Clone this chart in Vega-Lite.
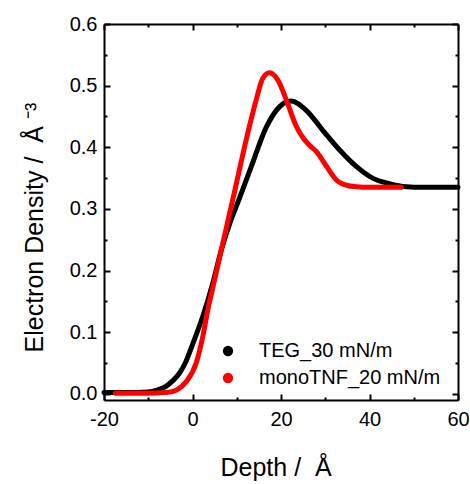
{
  "$schema": "https://vega.github.io/schema/vega-lite/v6.json",
  "width": 354,
  "height": 376,
  "autosize": {"type": "none"},
  "padding": {"left": 104, "top": 24, "right": 12, "bottom": 84},
  "background": "white",
  "config": {
    "font": "Liberation Sans",
    "view": {"stroke": null},
    "axis": {
      "grid": false,
      "domainColor": "black",
      "domainWidth": 2,
      "tickColor": "black",
      "tickWidth": 2,
      "labelFont": "Liberation Sans",
      "labelFontSize": 20,
      "labelColor": "black",
      "titleFont": "Liberation Sans",
      "titleFontSize": 25,
      "titleFontWeight": "normal",
      "titleColor": "black",
      "labelFlush": false,
      "labelOverlap": false
    },
    "legend": {
      "labelFont": "Liberation Sans",
      "labelFontSize": 20,
      "labelColor": "black",
      "labelLimit": 0
    }
  },
  "data": {
    "values": [
      {"s": "TEG_30 mN/m", "x": -20, "y": 0.002},
      {"s": "TEG_30 mN/m", "x": -15, "y": 0.002},
      {"s": "TEG_30 mN/m", "x": -10, "y": 0.003},
      {"s": "TEG_30 mN/m", "x": -8, "y": 0.006},
      {"s": "TEG_30 mN/m", "x": -6, "y": 0.012},
      {"s": "TEG_30 mN/m", "x": -4.5, "y": 0.021},
      {"s": "TEG_30 mN/m", "x": -3, "y": 0.033},
      {"s": "TEG_30 mN/m", "x": -1.5, "y": 0.052},
      {"s": "TEG_30 mN/m", "x": 0, "y": 0.08},
      {"s": "TEG_30 mN/m", "x": 2.3, "y": 0.125},
      {"s": "TEG_30 mN/m", "x": 4.6, "y": 0.18},
      {"s": "TEG_30 mN/m", "x": 6.5, "y": 0.233},
      {"s": "TEG_30 mN/m", "x": 8.5, "y": 0.278},
      {"s": "TEG_30 mN/m", "x": 10.6, "y": 0.317},
      {"s": "TEG_30 mN/m", "x": 13.3, "y": 0.369},
      {"s": "TEG_30 mN/m", "x": 16.7, "y": 0.433},
      {"s": "TEG_30 mN/m", "x": 19.7, "y": 0.466},
      {"s": "TEG_30 mN/m", "x": 22.3, "y": 0.475},
      {"s": "TEG_30 mN/m", "x": 25.7, "y": 0.46},
      {"s": "TEG_30 mN/m", "x": 29.4, "y": 0.428},
      {"s": "TEG_30 mN/m", "x": 33.2, "y": 0.396},
      {"s": "TEG_30 mN/m", "x": 37, "y": 0.369},
      {"s": "TEG_30 mN/m", "x": 40.7, "y": 0.35},
      {"s": "TEG_30 mN/m", "x": 44.5, "y": 0.341},
      {"s": "TEG_30 mN/m", "x": 48.3, "y": 0.336},
      {"s": "TEG_30 mN/m", "x": 52, "y": 0.335},
      {"s": "TEG_30 mN/m", "x": 60, "y": 0.335},
      {"s": "monoTNF_20 mN/m", "x": -17.4, "y": 0.001},
      {"s": "monoTNF_20 mN/m", "x": -10, "y": 0.001},
      {"s": "monoTNF_20 mN/m", "x": -6, "y": 0.002},
      {"s": "monoTNF_20 mN/m", "x": -3.7, "y": 0.006},
      {"s": "monoTNF_20 mN/m", "x": -1.4, "y": 0.02},
      {"s": "monoTNF_20 mN/m", "x": 0.84, "y": 0.05},
      {"s": "monoTNF_20 mN/m", "x": 2.33, "y": 0.093},
      {"s": "monoTNF_20 mN/m", "x": 3.46, "y": 0.136},
      {"s": "monoTNF_20 mN/m", "x": 5, "y": 0.185},
      {"s": "monoTNF_20 mN/m", "x": 6.5, "y": 0.233},
      {"s": "monoTNF_20 mN/m", "x": 9.1, "y": 0.315},
      {"s": "monoTNF_20 mN/m", "x": 12.9, "y": 0.435},
      {"s": "monoTNF_20 mN/m", "x": 14.4, "y": 0.477},
      {"s": "monoTNF_20 mN/m", "x": 15.9, "y": 0.512},
      {"s": "monoTNF_20 mN/m", "x": 17.4, "y": 0.521},
      {"s": "monoTNF_20 mN/m", "x": 19.3, "y": 0.509},
      {"s": "monoTNF_20 mN/m", "x": 21.2, "y": 0.477},
      {"s": "monoTNF_20 mN/m", "x": 23.4, "y": 0.435},
      {"s": "monoTNF_20 mN/m", "x": 25, "y": 0.415},
      {"s": "monoTNF_20 mN/m", "x": 26.5, "y": 0.403},
      {"s": "monoTNF_20 mN/m", "x": 28, "y": 0.393},
      {"s": "monoTNF_20 mN/m", "x": 30.2, "y": 0.37},
      {"s": "monoTNF_20 mN/m", "x": 32.5, "y": 0.347},
      {"s": "monoTNF_20 mN/m", "x": 35, "y": 0.338},
      {"s": "monoTNF_20 mN/m", "x": 37, "y": 0.336},
      {"s": "monoTNF_20 mN/m", "x": 40, "y": 0.335},
      {"s": "monoTNF_20 mN/m", "x": 47.2, "y": 0.335}
    ]
  },
  "layer": [
    {
      "mark": {"type": "line", "strokeWidth": 5, "strokeCap": "round", "strokeJoin": "round", "interpolate": "monotone"},
      "encoding": {
        "x": {"field": "x", "type": "quantitative", "scale": {"domain": [-20, 60], "nice": false, "zero": false},
          "axis": {"orient": "bottom", "values": [-20, 0, 20, 40, 60], "tickSize": -6, "labelPadding": 15,
            "labelExpr": "replace(datum.label, '\u2212', '-')",
            "title": "Depth /\u00a0\u00a0Å", "titleX": 116, "titleY": 75, "titleAlign": "left", "titleBaseline": "alphabetic"}},
        "y": {"field": "y", "type": "quantitative", "scale": {"domain": [-0.01, 0.6], "nice": false, "zero": false},
          "axis": {"orient": "left", "values": [0, 0.1, 0.2, 0.3, 0.4, 0.5, 0.6], "format": ".1f", "tickSize": -6, "labelPadding": 13,
            "title": "Electron Density /\u00a0\u00a0Å\u00a0⁻³", "titleX": -62, "titleY": 328, "titleAngle": 270, "titleAlign": "left", "titleBaseline": "alphabetic"}},
        "color": {"field": "s", "type": "nominal", "sort": ["TEG_30 mN/m", "monoTNF_20 mN/m"],
          "scale": {"domain": ["TEG_30 mN/m", "monoTNF_20 mN/m"], "range": ["#000000", "#ff0000"]},
          "legend": {"title": null, "orient": "none", "legendX": 114, "legendY": 317, "symbolType": "circle", "symbolSize": 28, "symbolStrokeWidth": 5, "labelOffset": 21, "rowPadding": 1, "labelLimit": 0}}
      }
    },
    {
      "mark": {"type": "line", "opacity": 0},
      "encoding": {
        "x": {"field": "x", "type": "quantitative", "scale": {"domain": [-20, 60], "nice": false, "zero": false},
          "axis": {"orient": "bottom", "values": [-10, 10, 30, 50], "tickSize": -3, "labels": false, "domain": false, "title": null}},
        "y": {"field": "y", "type": "quantitative", "scale": {"domain": [-0.01, 0.6], "nice": false, "zero": false},
          "axis": {"orient": "left", "values": [0.05, 0.15, 0.25, 0.35, 0.45, 0.55], "tickSize": -3, "labels": false, "domain": false, "title": null}},
        "detail": {"field": "s"}
      }
    },
    {
      "mark": {"type": "line", "opacity": 0},
      "encoding": {
        "x": {"field": "x", "type": "quantitative", "scale": {"domain": [-20, 60], "nice": false, "zero": false},
          "axis": {"orient": "top", "values": [-20, 0, 20, 40, 60], "tickSize": -6, "labels": false, "title": null}},
        "y": {"field": "y", "type": "quantitative", "scale": {"domain": [-0.01, 0.6], "nice": false, "zero": false},
          "axis": {"orient": "right", "values": [0, 0.1, 0.2, 0.3, 0.4, 0.5, 0.6], "tickSize": -6, "labels": false, "title": null}},
        "detail": {"field": "s"}
      }
    },
    {
      "mark": {"type": "line", "opacity": 0},
      "encoding": {
        "x": {"field": "x", "type": "quantitative", "scale": {"domain": [-20, 60], "nice": false, "zero": false},
          "axis": {"orient": "top", "values": [-10, 10, 30, 50], "tickSize": -3, "labels": false, "domain": false, "title": null}},
        "y": {"field": "y", "type": "quantitative", "scale": {"domain": [-0.01, 0.6], "nice": false, "zero": false},
          "axis": {"orient": "right", "values": [0.05, 0.15, 0.25, 0.35, 0.45, 0.55], "tickSize": -3, "labels": false, "domain": false, "title": null}},
        "detail": {"field": "s"}
      }
    }
  ],
  "resolve": {"axis": {"x": "independent", "y": "independent"}}
}
